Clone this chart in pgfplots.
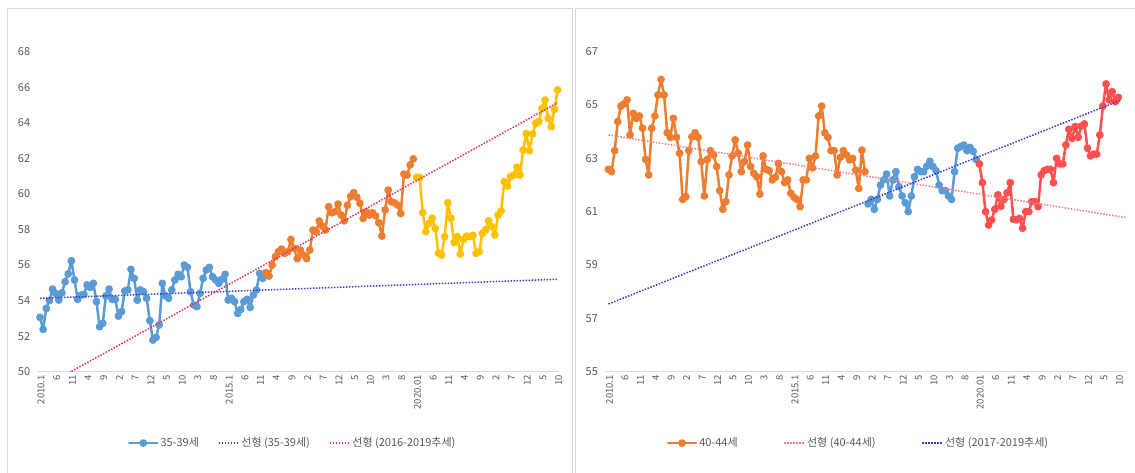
\documentclass[border=0pt]{standalone}
\usepackage{fontspec}
\setmainfont{Noto Sans CJK KR}
\usepackage{pgfplots}
\usepackage{pgfplotstable}
\pgfplotsset{compat=1.18}
\definecolor{sblue}{HTML}{5B9BD5}
\definecolor{sorange}{HTML}{ED7D31}
\definecolor{syellow}{HTML}{FFC000}
\definecolor{sred}{HTML}{FF4F4F}
\definecolor{tblue}{HTML}{3A3AC8}
\definecolor{tred}{HTML}{E8305A}
\definecolor{tpink}{HTML}{F07C8C}
\definecolor{tgray}{HTML}{595959}
\definecolor{fgray}{HTML}{D9D9D9}

\pgfplotstableread{
i v
0 53.06
1 52.38
2 53.56
3 54.00
4 54.65
5 54.40
6 54.03
7 54.44
8 55.06
9 55.50
10 56.24
11 55.16
12 54.07
13 54.30
14 54.35
15 54.88
16 54.74
17 54.97
18 53.94
19 52.53
20 52.72
21 54.26
22 54.65
23 54.07
24 54.07
25 53.13
26 53.38
27 54.54
28 54.60
29 55.76
30 55.25
31 54.03
32 54.60
33 54.50
34 54.13
35 52.87
36 51.78
37 51.93
38 52.63
39 54.97
40 54.26
41 54.13
42 54.60
43 55.16
44 55.48
45 55.34
46 56.00
47 55.87
48 54.50
49 53.75
50 53.66
51 54.40
52 55.25
53 55.72
54 55.87
55 55.34
56 55.16
57 54.97
58 55.20
59 55.48
60 54.03
61 54.13
62 53.94
63 53.28
64 53.50
65 53.94
66 54.07
67 53.62
68 54.31
69 54.60
70 55.53
71 55.25
}\LBlue
\pgfplotstableread{
i v
72 55.57
73 55.38
74 56.00
75 56.47
76 56.75
77 56.90
78 56.66
79 56.75
80 57.44
81 56.94
82 56.36
83 56.84
84 56.56
85 56.36
86 56.84
87 57.97
88 57.88
89 58.48
90 58.19
91 57.97
92 59.28
93 58.94
94 59.00
95 59.43
96 58.81
97 58.49
98 59.36
99 59.85
100 60.07
101 59.81
102 59.47
103 58.62
104 59.00
105 58.81
106 58.94
107 58.76
108 58.38
109 57.63
110 59.10
111 60.22
112 59.56
113 59.50
114 59.37
115 58.90
116 61.12
117 61.06
118 61.63
119 61.97
}\LOrange
\pgfplotstableread{
i v
120 60.93
121 60.93
122 58.94
123 57.88
124 58.34
125 58.63
126 58.06
127 56.66
128 56.56
129 57.60
130 59.50
131 58.63
132 57.26
133 57.60
134 56.62
135 57.44
136 57.63
137 57.60
138 57.67
139 56.66
140 56.75
141 57.78
142 57.97
143 58.49
144 58.16
145 57.69
146 58.81
147 59.04
148 60.69
149 60.44
150 60.97
151 61.06
152 61.50
153 61.06
154 62.47
155 63.40
156 62.43
157 63.37
158 63.97
159 64.06
160 64.81
161 65.28
162 64.25
163 63.78
164 64.76
165 65.85
}\LYellow
\pgfplotstableread{
i v
0 62.59
1 62.50
2 63.29
3 64.38
4 64.96
5 65.04
6 65.19
7 63.88
8 64.69
9 64.50
10 64.59
11 64.13
12 62.96
13 62.38
14 64.13
15 64.59
16 65.38
17 65.96
18 65.38
19 63.96
20 63.79
21 64.50
22 63.79
23 63.19
24 61.46
25 61.56
26 63.29
27 63.81
28 63.96
29 63.79
30 62.88
31 61.59
32 62.96
33 63.29
34 63.13
35 62.69
36 61.79
37 61.09
38 61.38
39 62.38
40 63.09
41 63.69
42 63.19
43 62.50
44 62.88
45 63.50
46 62.69
47 62.44
48 62.31
49 61.66
50 63.09
51 62.59
52 62.54
53 62.19
54 62.29
55 62.81
56 62.50
57 62.09
58 62.19
59 61.69
60 61.54
61 61.46
62 61.19
63 62.19
64 62.19
65 63.00
66 62.64
67 63.09
68 64.59
69 64.96
70 63.96
71 63.79
72 63.29
73 63.29
74 62.38
75 63.04
76 63.29
77 63.13
78 62.94
79 63.00
80 62.56
81 61.87
82 63.31
83 62.50
}\ROrange
\pgfplotstableread{
i v
84 61.29
85 61.46
86 61.09
87 61.46
88 62.00
89 62.19
90 62.41
91 61.59
92 62.19
93 62.50
94 61.94
95 61.59
96 61.34
97 61.00
98 61.59
99 62.31
100 62.59
101 62.50
102 62.50
103 62.71
104 62.89
105 62.69
106 62.54
107 62.00
108 61.79
109 61.79
110 61.59
111 61.46
112 62.50
113 63.38
114 63.44
115 63.50
116 63.29
117 63.41
118 63.26
119 62.96
}\RBlue
\pgfplotstableread{
i v
120 62.79
121 62.09
122 61.00
123 60.50
124 60.69
125 61.09
126 61.63
127 61.21
128 61.46
129 61.71
130 62.09
131 60.71
132 60.69
133 60.75
134 60.38
135 61.00
136 61.00
137 61.38
138 61.38
139 61.19
140 62.38
141 62.54
142 62.59
143 62.59
144 62.09
145 63.00
146 62.79
147 62.79
148 63.50
149 64.09
150 63.75
151 64.19
152 63.79
153 64.21
154 64.29
155 63.38
156 63.09
157 63.16
158 63.16
159 63.88
160 64.96
161 65.79
162 65.19
163 65.50
164 65.13
165 65.29
}\RRed

\pgfplotsset{
  common/.style={
    scale only axis, height=320pt,
    clip mode=individual,
    axis line style={draw=none},
    major tick length=0pt,
    xtick={0,5,...,165},
    xticklabels={2010.1,6,11,4,9,2,7,12,5,10,3,8,2015.1,6,11,4,9,2,7,12,5,10,3,8,2020.01,6,11,4,9,2,7,12,5,10},
    xticklabel style={rotate=90, anchor=east, font=\fontsize{9.5}{11}\selectfont, text=tgray, yshift=-1pt},
    yticklabel style={font=\fontsize{11}{13}\selectfont, text=tgray, xshift=-4pt},
    /pgf/number format/assume math mode=true,
    legend cell align=left,
  },
  ser/.style={line width=2.5pt, line join=round, line cap=round, mark=*, mark size=2.6pt, mark options={solid}},
  trend/.style={line width=1.5pt, dash pattern=on 1.5pt off 1.5pt},
  serleg/.style={legend image code/.code={\draw[##1, mark repeat=2, mark phase=2] plot coordinates {(0pt,0pt) (14pt,0pt) (28pt,0pt)};}},
  trleg/.style={legend image code/.code={\draw[##1] (0pt,0pt) -- (20pt,0pt);}},
}

\begin{document}
\begin{tikzpicture}
\useasboundingbox (0,0) rectangle (1135pt,473pt);
\fill[white] (0,0) rectangle (1135pt,473pt);
\draw[fgray, line width=1pt] (7pt,-2pt) -- (7pt,464pt) -- (572pt,464pt) -- (572pt,-2pt);
\draw[fgray, line width=1pt] (575pt,-2pt) -- (575pt,464pt) -- (1140pt,464pt);

\begin{axis}[common,
  at={(37.65pt,101.3pt)}, anchor=south west, width=520.6pt,
  xmin=-0.75, xmax=165.2, ymin=50, ymax=68,
  ytick={50,52,...,68},
  legend style={at={(0.49,-0.223)}, anchor=center, draw=none, fill=none,
    legend columns=3, font=\fontsize{11}{13}\selectfont, text=tgray,
    /tikz/every even column/.append style={column sep=17pt}},
]
\draw[fgray, line width=1pt] (rel axis cs:0,0) -- (rel axis cs:1,0);
\addplot[ser, sblue, serleg] table[x=i,y=v] {\LBlue};
\addlegendentry{35-39세}
\addplot[ser, sorange, forget plot] table[x=i,y=v] {\LOrange};
\addplot[ser, syellow, forget plot] table[x=i,y=v] {\LYellow};
\addplot[trend, tblue, trleg] coordinates {(0,54.13) (165,55.20)};
\addlegendentry{선형 (35-39세)}
\addplot[trend, tred, trleg] coordinates {(0,49.04) (165,65.13)};
\addlegendentry{선형 (2016-2019추세)}
\end{axis}

\begin{axis}[common,
  at={(605.4pt,101.3pt)}, anchor=south west, width=520.7pt,
  xmin=-1, xmax=167.5, ymin=55, ymax=67,
  ytick={55,57,...,67},
  legend style={at={(0.486,-0.223)}, anchor=center, draw=none, fill=none,
    legend columns=3, font=\fontsize{11}{13}\selectfont, text=tgray,
    /tikz/every even column/.append style={column sep=44pt}},
]
\draw[fgray, line width=1pt] (rel axis cs:0,0) -- (rel axis cs:1,0);
\addplot[ser, sorange, serleg] table[x=i,y=v] {\ROrange};
\addlegendentry{40-44세}
\addplot[ser, sblue, forget plot] table[x=i,y=v] {\RBlue};
\addplot[ser, sred, forget plot] table[x=i,y=v] {\RRed};
\addplot[trend, tpink, trleg] coordinates {(0,63.88) (167.3,60.78)};
\addlegendentry{선형 (40-44세)}
\addplot[trend, tblue, trleg] coordinates {(0,57.54) (165.5,65.17)};
\addlegendentry{선형 (2017-2019추세)}
\end{axis}
\end{tikzpicture}
\end{document}
